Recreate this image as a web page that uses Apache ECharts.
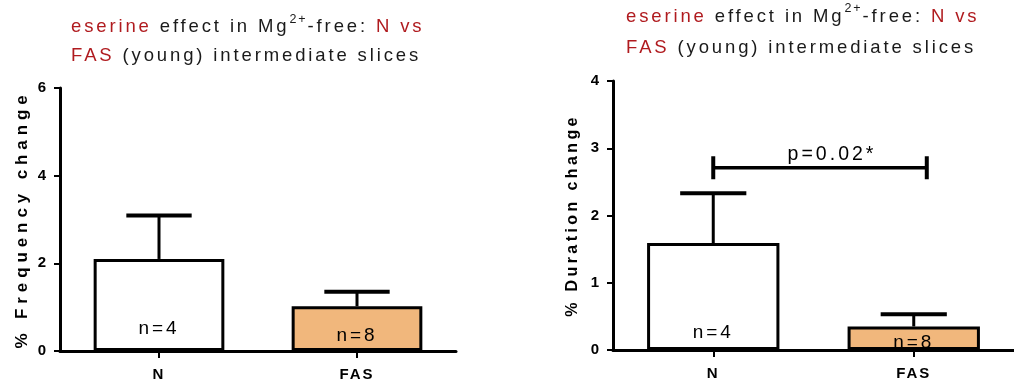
<!DOCTYPE html>
<html>
<head>
<meta charset="utf-8">
<script src="https://cdn.jsdelivr.net/npm/echarts@6/dist/echarts.min.js"></script>
<style>
html,body{margin:0;padding:0;background:#fff;}
#chart{width:1014px;height:387px;}
</style>
</head>
<body>
<div id="chart"></div>
<script>
// ---------- data ----------
const categories = ['N', 'FAS'];
const freqMean = [2.1, 1.02];
const freqErr = [0.99, 0.33];
const durMean = [1.59, 0.35];
const durErr = [0.74, 0.18];
const nLabels = ['n=4', 'n=8'];
const freqAxis = { min: 0, max: 6, interval: 2 };
const durAxis = { min: 0, max: 4, interval: 1 };
const freqName = '% Frequency change';
const durName = '% Duration change';
const sigY = 2.71;
const sigText = 'p=0.02*';
const titleText = '{r|eserine} {k|effect in Mg}{sup|2+}{k|-free:} {r|N vs}\n{r|FAS} {k|(young) intermediate slices}';

// ---------- letter spacing (style only) ----------
(function () {
  const P = CanvasRenderingContext2D.prototype;
  if (!('letterSpacing' in P)) return;
  const boldMap = { 17: 4.9, 16: 3.4, 15: 2.0 };
  function sp(font) {
    const m = /(\d+(?:\.\d+)?)px/.exec(font);
    const s = m ? +m[1] : 12;
    const bold = /bold|[6-9]00/.test(font);
    return bold ? (boldMap[s] !== undefined ? boldMap[s] : s * 0.15) : s * 0.155;
  }
  const fill = P.fillText, meas = P.measureText;
  P.fillText = function (t, x, y, w) {
    this.letterSpacing = sp(this.font) + 'px';
    return w === undefined ? fill.call(this, t, x, y) : fill.call(this, t, x, y, w);
  };
  P.measureText = function (t) {
    this.letterSpacing = sp(this.font) + 'px';
    return meas.call(this, t);
  };
})();

// ---------- styles ----------
const FONT = 'Liberation Sans';
const RED = '#b01b1f';
const FILL = ['#ffffff', '#f1b77c'];
const labelDist = [[11, 4], [6, -4]];
const capRatio = 0.33;
const bracketExt = 0.065;

function titleOpt(left, top, lh) {
  const base = { fontFamily: FONT, fontSize: 18.5, fontWeight: 'normal', lineHeight: lh };
  return {
    text: titleText, left: left, top: top, padding: 0,
    textStyle: Object.assign({
      color: '#1a1a1a',
      rich: {
        r: Object.assign({ color: RED }, base),
        k: Object.assign({ color: '#1a1a1a' }, base),
        sup: { color: '#1a1a1a', fontFamily: FONT, fontSize: 12.5, lineHeight: 18, verticalAlign: 'top' }
      }
    }, base)
  };
}

function yAxisOpt(idx, ax, name, gap, nameSize) {
  return {
    type: 'value', gridIndex: idx, min: ax.min, max: ax.max, interval: ax.interval,
    name: name, nameLocation: 'middle', nameRotate: 90, nameGap: gap,
    nameTextStyle: { fontFamily: FONT, fontSize: nameSize, fontWeight: 'bold', color: '#000' },
    axisLine: { show: true, lineStyle: { color: '#000', width: 3 } },
    axisTick: { show: true, length: 6, lineStyle: { color: '#000', width: 2 } },
    axisLabel: { fontFamily: FONT, fontSize: 15, fontWeight: 'bold', color: '#000', margin: 12 },
    splitLine: { show: false }
  };
}
function xAxisOpt(idx) {
  return {
    type: 'category', gridIndex: idx, data: categories,
    axisLine: { show: true, lineStyle: { color: '#000', width: 3 } },
    axisTick: { show: true, alignWithLabel: true, length: 7, lineStyle: { color: '#000', width: 2 } },
    axisLabel: { fontFamily: FONT, fontSize: 15, fontWeight: 'bold', color: '#000', margin: 15 }
  };
}
function barSeries(idx, means) {
  return {
    type: 'bar', xAxisIndex: idx, yAxisIndex: idx, barWidth: '66%', z: 2,
    data: means.map((v, i) => ({
      value: v,
      itemStyle: { color: FILL[i], borderColor: '#000', borderWidth: 3 },
      label: {
        show: true, position: 'insideBottom', distance: labelDist[idx][i],
        formatter: nLabels[i], fontFamily: FONT, fontSize: 19, color: '#000'
      }
    }))
  };
}
function errSeries(idx, means, errs) {
  return {
    type: 'custom', xAxisIndex: idx, yAxisIndex: idx, z: 3,
    data: means.map((v, i) => [i, v, errs[i]]),
    renderItem: function (params, api) {
      const x = api.value(0), v = api.value(1), e = api.value(2);
      const b = api.coord([x, v]), t = api.coord([x, v + e]);
      const w = api.size([1, 0])[0] * capRatio;
      return {
        type: 'group', children: [
          { type: 'line', shape: { x1: b[0], y1: b[1], x2: t[0], y2: t[1] }, style: { stroke: '#000', lineWidth: 3 } },
          { type: 'line', shape: { x1: t[0] - w / 2, y1: t[1], x2: t[0] + w / 2, y2: t[1] }, style: { stroke: '#000', lineWidth: 4 } }
        ]
      };
    }
  };
}

const option = {
  animation: false,
  backgroundColor: '#fff',
  title: [titleOpt(71, 12, 29), titleOpt(626, 1, 31)],
  grid: [
    { left: 60, right: 558, top: 88, bottom: 36 },
    { left: 613, right: -4, top: 81, bottom: 37 }
  ],
  xAxis: [xAxisOpt(0), xAxisOpt(1)],
  yAxis: [yAxisOpt(0, freqAxis, freqName, 26, 17), yAxisOpt(1, durAxis, durName, 31, 16)],
  series: [
    barSeries(0, freqMean),
    errSeries(0, freqMean, freqErr),
    barSeries(1, durMean),
    errSeries(1, durMean, durErr),
    {
      type: 'custom', xAxisIndex: 1, yAxisIndex: 1, z: 4,
      data: [[0, 1, sigY]],
      renderItem: function (params, api) {
        const y = api.value(2);
        const a = api.coord([api.value(0), y]);
        const band = api.size([1, 0])[0];
        const b = api.coord([api.value(1), y]);
        const x2 = b[0] + band * bracketExt;
        return {
          type: 'group', children: [
            { type: 'line', shape: { x1: a[0], y1: a[1], x2: x2, y2: a[1] }, style: { stroke: '#000', lineWidth: 3.5 } },
            { type: 'line', shape: { x1: a[0], y1: a[1] - 11.5, x2: a[0], y2: a[1] + 11.5 }, style: { stroke: '#000', lineWidth: 4 } },
            { type: 'line', shape: { x1: x2, y1: a[1] - 11.5, x2: x2, y2: a[1] + 11.5 }, style: { stroke: '#000', lineWidth: 4 } },
            { type: 'text', x: (a[0] + x2) / 2 + 12, y: a[1] - 2,
              style: { text: sigText, textAlign: 'center', textVerticalAlign: 'bottom', font: 'normal 19.5px "' + FONT + '"', fill: '#000' } }
          ]
        };
      }
    }
  ]
};

const chart = echarts.init(document.getElementById('chart'), null, { renderer: 'canvas', devicePixelRatio: 1 });
chart.setOption(option);
</script>
</body>
</html>
